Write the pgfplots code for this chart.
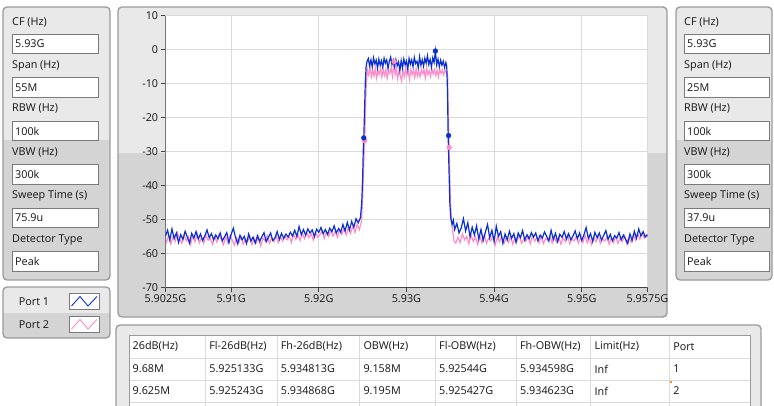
\documentclass[border=0pt]{standalone}
\usepackage{fontspec}
\setmainfont{Open Sans}
\usepackage{pgfplots}
\pgfplotsset{compat=1.18}
\definecolor{pbg}{HTML}{E9E9E9}
\definecolor{pbgd}{HTML}{D4D4D4}
\definecolor{pbd}{HTML}{9A9A9A}
\definecolor{fbd}{HTML}{7A7A7A}
\definecolor{tr1}{HTML}{0A30D0}
\definecolor{tr2}{HTML}{FF8CC8}
\definecolor{gridc}{HTML}{DADADA}
\definecolor{txt}{HTML}{141414}

% panel: x1 y1 x2 y2 ysplit
\newcommand\panel[5]{%
  \begin{scope}
    \clip[rounded corners=4] (#1,#2) rectangle (#3,#4);
    \fill[pbg] (#1,#2) rectangle (#3,#5);
    \fill[pbgd] (#1,#5) rectangle (#3,#4);
  \end{scope}
  \draw[pbd, line width=1.3, rounded corners=4] (#1,#2) rectangle (#3,#4);}
% field: x y width text
\newcommand\field[4]{%
  \draw[fbd, fill=white, line width=0.8] (#1,#2) rectangle ++(#3,19.5);
  \node[anchor=west, inner sep=0pt, txt] at (#1+3,#2+10) {#4};}
\newcommand\lab[3]{\node[anchor=west, inner sep=0pt, txt] at (#1,#2) {#3};}

\begin{document}
\fontsize{10.8}{13}\selectfont
\begin{tikzpicture}[font=\fontsize{10.8}{13}\selectfont]
\begin{scope}[x=1pt, y=-1pt, shift={(0pt,405pt)}]
\useasboundingbox (0,0) rectangle (774,405);
\fill[white] (0,0) rectangle (774,405);

% left settings panel
\panel{3}{7}{110}{280}{140}
\lab{12}{22}{CF (Hz)}            \field{12}{34}{86}{5.93G}
\lab{12}{65.5}{Span (Hz)}        \field{12}{77.5}{86}{55M}
\lab{12}{109}{RBW (Hz)}          \field{12}{121}{86}{100k}
\lab{12}{152.5}{VBW (Hz)}        \field{12}{164.5}{86}{300k}
\lab{12}{196}{Sweep Time (s)}    \field{12}{208}{86}{75.9u}
\lab{12}{239.5}{Detector Type}   \field{12}{251.5}{86}{Peak}

% right settings panel
\panel{676}{7}{772}{280}{140}
\lab{684}{22}{CF (Hz)}           \field{684}{34}{85}{5.93G}
\lab{684}{65.5}{Span (Hz)}       \field{684}{77.5}{85}{25M}
\lab{684}{109}{RBW (Hz)}         \field{684}{121}{85}{100k}
\lab{684}{152.5}{VBW (Hz)}       \field{684}{164.5}{85}{300k}
\lab{684}{196}{Sweep Time (s)}   \field{684}{208}{85}{37.9u}
\lab{684}{239.5}{Detector Type}  \field{684}{251.5}{85}{Peak}

% legend panel
\panel{3}{287}{110}{338}{313}
\node[txt] at (34,301.5) {Port 1};
\node[txt] at (34,325) {Port 2};
\draw[fbd, fill=white, line width=0.8] (69,293) rectangle (99,309);
\draw[fbd, fill=white, line width=0.8] (69,316) rectangle (99,332);
\draw[tr1, line width=0.9] (71.5,306) -- (80,296.5) -- (88,306) -- (97,296.5);
\draw[tr2, line width=0.9] (71.5,329) -- (80,319.5) -- (88,329) -- (97,319.5);

% chart panel
\panel{118}{7}{667}{317}{153}

% table panel
\panel{116}{325}{761}{420}{420}
\fill[white] (129,335) rectangle (750,410);
\draw[gridc, line width=0.9] (129,358) -- (750,358) (129,380) -- (750,380) (129,402) -- (750,402);
\foreach \cx in {205.7,277.2,359.8,435.5,516.4,590.9,669.6}
  \draw[gridc, line width=0.9] (\cx,335) -- (\cx,410);
\draw[pbd, line width=1] (129,335) rectangle (750,410);
\foreach \cx/\h/\a/\b in {129/26dB(Hz)/9.68M/9.625M,
    205.7/Fl-26dB(Hz)/5.925133G/5.925243G,
    277.2/Fh-26dB(Hz)/5.934813G/5.934868G,
    359.8/OBW(Hz)/9.158M/9.195M,
    435.5/Fl-OBW(Hz)/5.92544G/5.925427G,
    516.4/Fh-OBW(Hz)/5.934598G/5.934623G,
    590.9/Limit(Hz)/Inf/Inf,
    669.6/Port/1/2}{
  \node[anchor=west, inner sep=0pt, txt] at (\cx+3.5,346.5) {\h};
  \node[anchor=west, inner sep=0pt, txt] at (\cx+3.5,369) {\a};
  \node[anchor=west, inner sep=0pt, txt] at (\cx+3.5,391) {\b};
}
\fill[orange!80!yellow] (669.6,380.5) rectangle ++(2,2);
\end{scope}

\begin{axis}[
  at={(165.4pt,117.7pt)}, anchor=south west,
  scale only axis, width=482.1pt, height=271.6pt,
  xmin=5902.5, xmax=5957.5, ymin=-70, ymax=10,
  xtick={5902.5,5910,5920,5930,5940,5950,5957.5},
  xticklabels={5.9025G,5.91G,5.92G,5.93G,5.94G,5.95G,5.9575G},
  ytick={-70,-60,-50,-40,-30,-20,-10,0,10},
  yticklabels={-70,-60,-50,-40,-30,-20,-10,0,10},
  tick pos=left, tick align=outside,
  major tick length=4.5pt,
  tick style={draw=black!75, line width=0.8},
  tick label style={txt, font=\fontsize{10.8}{13}\selectfont},
  xticklabel style={yshift=1pt},
  yticklabel style={xshift=1pt},
  grid=major, major grid style={gridc, line width=1.1},
  axis line style={draw=gridc, line width=1},
  axis background/.style={fill=white},
  clip=true,
]
% Port 2 (pink)
\addplot[tr2, line width=1.2, mark=none] coordinates {
(5902.5,-56.0) (5902.625,-56.8) (5902.875,-54.5) (5903.125,-57.2) (5903.375,-55.0) (5903.625,-56.4) (5903.875,-53.9)
(5904.125,-55.8) (5904.375,-57.0) (5904.625,-54.6) (5904.875,-56.3) (5905.125,-55.1) (5905.375,-57.4) (5905.625,-54.8)
(5905.875,-56.6) (5906.125,-54.2) (5906.375,-56.9) (5906.625,-55.3) (5906.875,-57.1) (5907.125,-54.5) (5907.375,-56.2)
(5907.625,-55.6) (5907.875,-57.3) (5908.125,-55.0) (5908.375,-56.7) (5908.625,-54.4) (5908.875,-56.0) (5909.125,-57.5)
(5909.375,-55.2) (5909.625,-56.8) (5909.875,-54.7) (5910.125,-56.1) (5910.375,-57.6) (5910.625,-55.4) (5910.875,-56.9)
(5911.125,-55.0) (5911.375,-57.3) (5911.625,-55.8) (5911.875,-56.5) (5912.125,-54.9) (5912.375,-57.4) (5912.625,-55.6)
(5912.875,-56.8) (5913.125,-55.1) (5913.375,-57.8) (5913.625,-55.5) (5913.875,-56.3) (5914.125,-54.8) (5914.375,-57.0)
(5914.625,-55.4) (5914.875,-56.6) (5915.125,-54.6) (5915.375,-56.9) (5915.625,-55.2) (5915.875,-56.4) (5916.125,-54.7)
(5916.375,-56.0) (5916.625,-55.0) (5916.875,-56.8) (5917.125,-54.3) (5917.375,-55.9) (5917.625,-54.6) (5917.875,-56.2)
(5918.125,-54.0) (5918.375,-55.7) (5918.625,-53.9) (5918.875,-55.4) (5919.125,-54.2) (5919.375,-56.1) (5919.625,-53.8)
(5919.875,-55.3) (5920.125,-54.5) (5920.375,-53.4) (5920.625,-55.6) (5920.875,-53.7) (5921.125,-55.0) (5921.375,-53.2)
(5921.625,-54.9) (5921.875,-53.5) (5922.125,-55.2) (5922.375,-53.0) (5922.625,-54.4) (5922.875,-52.8) (5923.125,-54.6)
(5923.375,-52.5) (5923.625,-54.1) (5923.875,-52.0) (5924.125,-53.9) (5924.375,-51.4) (5924.625,-53.0) (5924.875,-50.5)
(5925.0,-44.0) (5925.1,-36.0) (5925.18,-30.0) (5925.24,-26.8) (5925.32,-18.0) (5925.42,-10.0) (5925.55,-6.0)
(5925.7,-7.5) (5925.85,-5.2) (5926.0,-8.0) (5926.15,-6.1) (5926.3,-7.8) (5926.45,-5.5) (5926.6,-8.4) (5926.75,-6.3)
(5926.9,-7.2) (5927.05,-5.4) (5927.2,-8.1) (5927.35,-6.0) (5927.5,-7.6) (5927.65,-5.8) (5927.8,-8.5) (5927.95,-6.4)
(5928.1,-7.0) (5928.25,-5.3) (5928.4,-7.9) (5928.6,-3.5) (5928.7,-7.4) (5928.85,-5.6) (5929.0,-8.6) (5929.15,-6.2)
(5929.3,-7.7) (5929.45,-9.2) (5929.6,-6.0) (5929.75,-8.0) (5929.9,-5.7) (5930.05,-7.5) (5930.2,-6.3) (5930.35,-8.7)
(5930.5,-5.9) (5930.65,-7.3) (5930.8,-6.1) (5930.95,-8.2) (5931.1,-5.6) (5931.25,-7.8) (5931.4,-6.4) (5931.55,-8.0)
(5931.7,-5.8) (5931.85,-7.1) (5932.0,-6.0) (5932.15,-8.3) (5932.3,-5.5) (5932.45,-7.4) (5932.6,-6.2) (5932.75,-7.9)
(5932.9,-5.7) (5933.05,-7.2) (5933.2,-5.9) (5933.35,-7.6) (5933.5,-6.1) (5933.65,-8.0) (5933.8,-5.8) (5933.95,-7.0)
(5934.1,-6.0) (5934.25,-7.5) (5934.4,-5.9) (5934.55,-6.8) (5934.7,-8.0)
(5934.78,-20.0) (5934.87,-28.8) (5934.95,-38.0) (5935.05,-46.0) (5935.15,-50.5) (5935.3,-54.0) (5935.45,-56.5)
(5935.625,-57.0) (5935.875,-55.3) (5936.125,-56.8) (5936.375,-54.2) (5936.625,-56.0) (5936.875,-55.0) (5937.125,-57.2)
(5937.375,-54.6) (5937.625,-56.5) (5937.875,-55.2) (5938.125,-57.4) (5938.375,-55.0) (5938.625,-56.9) (5938.875,-54.5)
(5939.125,-57.0) (5939.375,-55.6) (5939.625,-56.3) (5939.875,-54.8) (5940.125,-57.5) (5940.375,-55.2) (5940.625,-56.6)
(5940.875,-54.9) (5941.125,-57.1) (5941.375,-55.5) (5941.625,-56.8) (5941.875,-55.0) (5942.125,-57.3) (5942.375,-55.4)
(5942.625,-56.2) (5942.875,-54.7) (5943.125,-57.0) (5943.375,-55.8) (5943.625,-56.5) (5943.875,-55.1) (5944.125,-57.2)
(5944.375,-54.9) (5944.625,-56.4) (5944.875,-55.3) (5945.125,-56.9) (5945.375,-55.0) (5945.625,-57.1) (5945.875,-55.6)
(5946.125,-56.2) (5946.375,-54.8) (5946.625,-57.0) (5946.875,-55.4) (5947.125,-56.7) (5947.375,-55.1) (5947.625,-57.3)
(5947.875,-55.5) (5948.125,-56.5) (5948.375,-54.6) (5948.625,-57.2) (5948.875,-55.8) (5949.125,-56.3) (5949.375,-55.0)
(5949.625,-57.0) (5949.875,-55.3) (5950.125,-56.8) (5950.375,-54.7) (5950.625,-56.9) (5950.875,-55.5) (5951.125,-57.4)
(5951.375,-55.2) (5951.625,-56.6) (5951.875,-54.9) (5952.125,-57.1) (5952.375,-55.7) (5952.625,-56.4) (5952.875,-55.0)
(5953.125,-57.3) (5953.375,-55.4) (5953.625,-56.8) (5953.875,-55.1) (5954.125,-57.0) (5954.375,-55.6) (5954.625,-56.5)
(5954.875,-54.8) (5955.125,-57.2) (5955.375,-55.3) (5955.625,-56.7) (5955.875,-54.5) (5956.125,-56.1) (5956.375,-54.2)
(5956.625,-55.8) (5956.875,-54.0) (5957.125,-55.5) (5957.375,-54.6) (5957.5,-55.2)
};
% Port 1 (blue)
\addplot[tr1, line width=1.2, mark=none] coordinates {
(5902.5,-55.0) (5902.75,-53.2) (5903.0,-56.1) (5903.25,-52.8) (5903.5,-55.6) (5903.75,-54.0) (5904.0,-56.8) (5904.25,-54.5)
(5904.5,-55.9) (5904.75,-53.5) (5905.0,-55.2) (5905.25,-57.0) (5905.5,-54.1) (5905.75,-55.5) (5906.0,-53.6) (5906.25,-55.8)
(5906.5,-54.3) (5906.75,-56.2) (5907.0,-54.8) (5907.25,-53.1) (5907.5,-55.4) (5907.75,-54.2) (5908.0,-56.0) (5908.25,-54.6)
(5908.5,-55.7) (5908.75,-54.0) (5909.0,-56.3) (5909.25,-55.1) (5909.5,-53.9) (5909.75,-56.9) (5910.0,-54.4) (5910.25,-52.6)
(5910.5,-55.3) (5910.75,-57.2) (5911.0,-54.7) (5911.25,-56.0) (5911.5,-55.0) (5911.75,-57.1) (5912.0,-54.3) (5912.25,-56.4)
(5912.5,-55.2) (5912.75,-57.0) (5913.0,-54.8) (5913.25,-56.5) (5913.5,-55.1) (5913.75,-53.9) (5914.0,-56.6) (5914.25,-55.3)
(5914.5,-54.0) (5914.75,-56.2) (5915.0,-55.5) (5915.25,-53.6) (5915.5,-55.9) (5915.75,-54.1) (5916.0,-55.6) (5916.25,-54.3)
(5916.5,-55.2) (5916.75,-53.8) (5917.0,-54.9) (5917.25,-53.2) (5917.5,-55.0) (5917.75,-52.1) (5918.0,-54.5) (5918.25,-53.0)
(5918.5,-54.6) (5918.75,-52.8) (5919.0,-54.0) (5919.25,-53.1) (5919.5,-55.1) (5919.75,-52.9) (5920.0,-53.8) (5920.25,-52.4)
(5920.5,-54.2) (5920.75,-53.0) (5921.0,-54.4) (5921.25,-52.6) (5921.5,-53.6) (5921.75,-51.9) (5922.0,-54.0) (5922.25,-52.7)
(5922.5,-53.8) (5922.75,-51.5) (5923.0,-53.4) (5923.25,-50.9) (5923.5,-53.1) (5923.75,-50.6) (5924.0,-52.3) (5924.25,-49.8)
(5924.5,-51.0) (5924.75,-49.5) (5924.9,-45.0) (5925.0,-38.0) (5925.07,-30.0) (5925.13,-26.0) (5925.2,-20.0) (5925.3,-10.0)
(5925.4,-5.0) (5925.5,-3.5)
(5925.65,-2.6) (5925.8,-4.8) (5925.95,-3.0) (5926.1,-5.1) (5926.25,-2.4) (5926.4,-4.2) (5926.55,-3.1) (5926.7,-5.5)
(5926.85,-2.8) (5927.0,-4.6) (5927.15,-3.3) (5927.3,-5.2) (5927.45,-2.5) (5927.6,-4.0) (5927.75,-3.0) (5927.9,-5.6)
(5928.05,-3.4) (5928.2,-2.2) (5928.35,-4.4) (5928.5,-3.1) (5928.65,-5.0) (5928.8,-2.9) (5928.95,-4.7) (5929.1,-3.6)
(5929.25,-6.2) (5929.4,-3.2) (5929.55,-5.4) (5929.7,-2.7) (5929.85,-4.5) (5930.0,-3.3) (5930.15,-5.8) (5930.3,-2.6)
(5930.45,-4.3) (5930.6,-3.0) (5930.75,-5.0) (5930.9,-2.3) (5931.05,-4.1) (5931.2,-3.4) (5931.35,-5.3) (5931.5,-2.1)
(5931.65,-4.6) (5931.8,-3.0) (5931.95,-4.9) (5932.1,-2.5) (5932.25,-4.0) (5932.4,-1.8) (5932.55,-4.4) (5932.7,-2.9)
(5932.85,-5.1) (5933.0,-2.4) (5933.15,-3.8) (5933.3,-0.4) (5933.45,-4.5) (5933.6,-2.8) (5933.75,-5.0) (5933.9,-3.1)
(5934.05,-4.6) (5934.2,-3.4) (5934.35,-5.2) (5934.5,-3.8) (5934.6,-5.0)
(5934.68,-12.0) (5934.76,-25.3) (5934.85,-35.0) (5934.95,-45.0) (5935.05,-49.5) (5935.2,-51.5) (5935.35,-50.2) (5935.5,-53.0)
(5935.75,-51.2) (5936.0,-54.0) (5936.25,-52.5) (5936.5,-49.8) (5936.75,-53.4) (5937.0,-51.0) (5937.25,-55.1) (5937.5,-52.3)
(5937.75,-54.6) (5938.0,-51.9) (5938.25,-55.8) (5938.5,-53.0) (5938.75,-56.2) (5939.0,-53.8) (5939.25,-51.5) (5939.5,-55.4)
(5939.75,-53.2) (5940.0,-56.5) (5940.25,-52.0) (5940.5,-55.0) (5940.75,-53.6) (5941.0,-57.0) (5941.25,-54.3) (5941.5,-56.0)
(5941.75,-53.5) (5942.0,-55.6) (5942.25,-54.2) (5942.5,-56.8) (5942.75,-54.0) (5943.0,-55.4) (5943.25,-53.3) (5943.5,-56.1)
(5943.75,-54.5) (5944.0,-55.7) (5944.25,-53.9) (5944.5,-55.2) (5944.75,-54.0) (5945.0,-56.3) (5945.25,-54.6) (5945.5,-55.5)
(5945.75,-53.7) (5946.0,-55.0) (5946.25,-56.4) (5946.5,-53.2) (5946.75,-55.9) (5947.0,-54.1) (5947.25,-56.6) (5947.5,-54.4)
(5947.75,-55.3) (5948.0,-53.6) (5948.25,-55.8) (5948.5,-54.2) (5948.75,-56.0) (5949.0,-54.9) (5949.25,-53.4) (5949.5,-55.7)
(5949.75,-54.0) (5950.0,-56.2) (5950.25,-54.5) (5950.5,-52.4) (5950.75,-55.6) (5951.0,-54.2) (5951.25,-56.5) (5951.5,-53.8)
(5951.75,-55.4) (5952.0,-54.0) (5952.25,-56.1) (5952.5,-54.7) (5952.75,-53.3) (5953.0,-55.9) (5953.25,-54.4) (5953.5,-56.3)
(5953.75,-54.8) (5954.0,-55.5) (5954.25,-53.9) (5954.5,-56.0) (5954.75,-54.6) (5955.0,-55.8) (5955.25,-57.1) (5955.5,-54.3)
(5955.75,-56.2) (5956.0,-53.5) (5956.25,-55.6) (5956.5,-52.8) (5956.75,-54.9) (5957.0,-53.6) (5957.25,-55.2) (5957.5,-54.5)
};
% markers
\addplot[only marks, mark=*, mark size=2.4pt, tr2] coordinates {(5925.24,-26.8) (5934.87,-28.8) (5928.6,-3.5)};
\addplot[only marks, mark=*, mark size=2.4pt, tr1] coordinates {(5925.13,-26.0) (5934.81,-25.3) (5933.3,-0.4)};
\draw[black!75, line width=1] (rel axis cs:0,1) -- (rel axis cs:0,0) -- (rel axis cs:1,0);
\end{axis}
\end{tikzpicture}
\end{document}
